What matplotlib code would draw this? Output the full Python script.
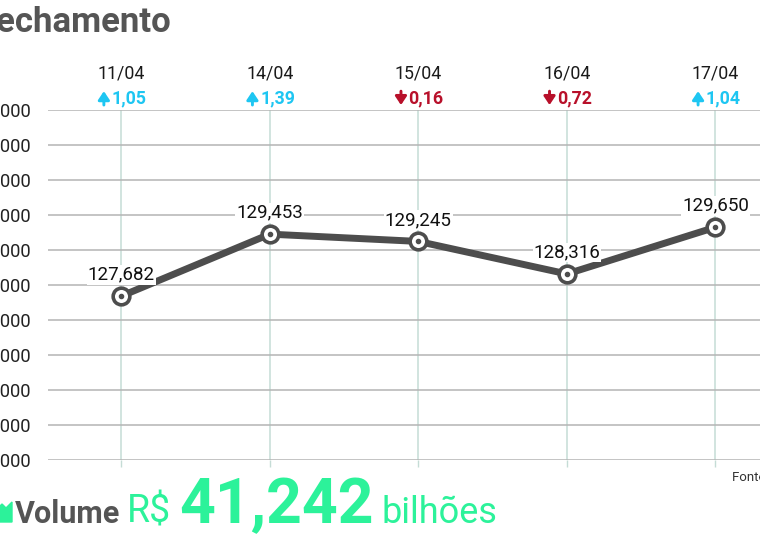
import matplotlib.pyplot as plt
from matplotlib.patches import Polygon
from matplotlib.transforms import blended_transform_factory, offset_copy

# dados
dias = ['11/04', '14/04', '15/04', '16/04', '17/04']
fechamento = [127682, 129453, 129245, 128316, 129650]
variacao = [1.05, 1.39, -0.16, -0.72, 1.04]
yticks = [123000, 124000, 125000, 126000, 127000, 128000,
          129000, 130000, 131000, 132000, 133000]
ytick_labels = ['123.000', '124.000', '125.000', '126.000', '127.000', '128.000',
                '129.000', '130.000', '131.000', '132.000', '133.000']
volume = '41,242'

W, H = 760, 541
CINZA = '#4d4d4d'
VERDE = '#2cf29a'
AZUL = '#1ec6f2'
VERMELHO = '#b8102a'
ROBOTO = ['Roboto', 'DejaVu Sans']

fig = plt.figure(figsize=(W / 100, H / 100), dpi=100)
ax = fig.add_axes([48 / W, (H - 460) / H, 712 / W, 350 / H])

x = list(range(len(dias)))
ax.set_xlim(-0.493, 4.3)
ax.set_ylim(yticks[0], yticks[-1])

ax.set_yticks(yticks)
ax.set_yticklabels(ytick_labels, fontfamily=ROBOTO, fontsize=13.2, color='#222222')
ax.tick_params(axis='y', length=0, pad=12.3)
ax.set_xticks(x)
ax.set_xticklabels([])
ax.tick_params(axis='x', length=5, width=1, color='#c5dcd6', direction='out')

ax.grid(axis='y', color='#b4b4b4', linewidth=1.1)
ax.grid(axis='x', color='#c5dcd6', linewidth=1.1)
ax.set_axisbelow(True)
for s in ax.spines.values():
    s.set_visible(False)

ax.plot(x, fechamento, color=CINZA, linewidth=5, solid_capstyle='round', zorder=3)
ax.plot(x, fechamento, 'o', markersize=12, markerfacecolor='white',
        markeredgecolor=CINZA, markeredgewidth=2.6, zorder=4)
ax.plot(x, fechamento, 'o', markersize=3, color=CINZA, zorder=5)

for xi, v in zip(x, fechamento):
    ax.annotate(f'{v / 1000:.3f}'.replace('.', ','), (xi, v), xytext=(0, 9),
                textcoords='offset points', ha='center', va='bottom',
                fontsize=13.5, fontfamily=ROBOTO, color='#111111', zorder=6,
                bbox=dict(boxstyle='square,pad=0.05', fc='white', ec='none'))

trans = blended_transform_factory(ax.transData, ax.transAxes)
for xi, d, c in zip(x, dias, variacao):
    ax.text(xi, 1.105, d, transform=trans, ha='center', va='center',
            fontsize=12.8, fontfamily=ROBOTO, color='#1a1a1a')
    cor = AZUL if c >= 0 else VERMELHO
    # seta grossa
    sinal = 1 if c >= 0 else -1
    ponta = offset_copy(trans, fig=fig, x=-12.5, y=5.0 * sinal, units='points')
    ax.annotate('', (xi, 1.034), xycoords=ponta, xytext=(0, -10 * sinal),
                textcoords='offset points',
                arrowprops=dict(arrowstyle='-|>,head_length=0.36,head_width=0.24',
                                lw=2.1, color=cor, shrinkA=0, shrinkB=0,
                                mutation_scale=14, joinstyle='round'))
    ax.annotate(f'{abs(c):.2f}'.replace('.', ','), (xi, 1.034), xycoords=trans,
                xytext=(-7, 0), textcoords='offset points', ha='left', va='center',
                fontsize=12.8, fontweight='bold', fontfamily=ROBOTO, color=cor)

# titulo (cortado na esquerda como no original)
fig.text(171 / W, 1 - 32 / H, 'Fechamento', ha='right', va='baseline',
         fontsize=25, fontweight='bold', fontfamily=ROBOTO, color='#555555')

fig.text(732 / W, 1 - 481 / H, 'Fonte: B3', ha='left', va='baseline',
         fontsize=9.5, fontfamily=ROBOTO, color='#333333')

# volume
base = 1 - 523 / H
icone = Polygon([(-8 / W, 1 - 522 / H), (12 / W, 1 - 522 / H), (12 / W, 1 - 502 / H),
                 (6 / W, 1 - 508 / H), (2 / W, 1 - 504 / H), (-8 / W, 1 - 514 / H)],
                closed=True, transform=fig.transFigure, color=VERDE)
fig.patches.append(icone)
fig.text(15 / W, base, 'Volume', ha='left', va='baseline', fontsize=22,
         fontweight='bold', fontfamily=ROBOTO, color='#555555')
fig.text(127 / W, base, 'R$', ha='left', va='baseline', fontsize=27,
         fontweight='normal', fontfamily=ROBOTO, color=VERDE)
fig.text(179 / W, base, volume, ha='left', va='baseline', fontsize=45,
         fontweight='bold', fontfamily=ROBOTO, color=VERDE)
fig.text(382 / W, base, 'bilhões', ha='left', va='baseline', fontsize=26,
         fontweight='normal', fontfamily=ROBOTO, color=VERDE)

fig.savefig('out.png', dpi=100)
